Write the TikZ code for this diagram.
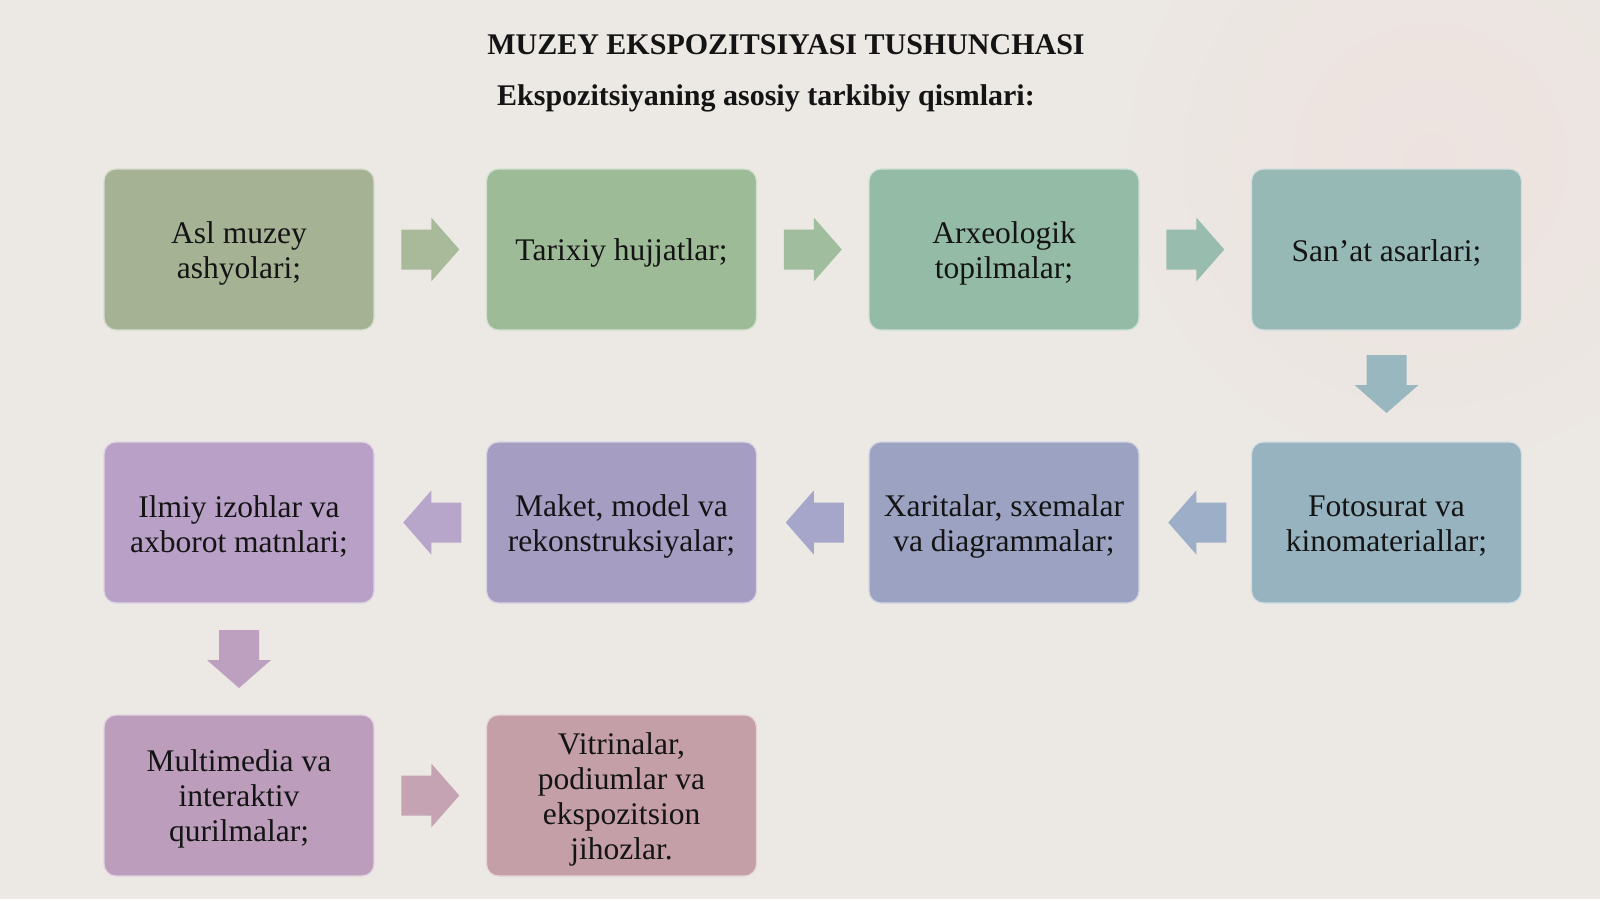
\documentclass[tikz,border=0pt]{standalone}
\usepackage{fontspec}
\setmainfont{Liberation Serif}
\usetikzlibrary{calc}
\definecolor{bg}{HTML}{ECE8E3}
\definecolor{bgtint}{HTML}{EDE2DF}
\definecolor{ink}{HTML}{141414}
\definecolor{cA}{HTML}{A5B394}
\definecolor{cB}{HTML}{9EBB98}
\definecolor{cC}{HTML}{93BBA5}
\definecolor{cD}{HTML}{97B9B6}
\definecolor{cE}{HTML}{97B3C0}
\definecolor{cF}{HTML}{9BA2C2}
\definecolor{cG}{HTML}{A69DC3}
\definecolor{cH}{HTML}{B9A0C6}
\definecolor{cI}{HTML}{BC9DBC}
\definecolor{cJ}{HTML}{C49FA8}
\definecolor{aA}{HTML}{A9BA9A}
\definecolor{aB}{HTML}{A0BD9E}
\definecolor{aC}{HTML}{98BCAD}
\definecolor{aD}{HTML}{98B7BE}
\definecolor{aE}{HTML}{9DAEC9}
\definecolor{aF}{HTML}{A5A6CA}
\definecolor{aG}{HTML}{B8A6CA}
\definecolor{aH}{HTML}{BDA0C0}
\definecolor{aI}{HTML}{C5A3B2}
\tikzset{
  box/.style={rounded corners=12pt, minimum width=270pt, minimum height=161pt,
    inner sep=0pt, draw=white!55!#1, line width=1.2pt, fill=#1},
  boxtext/.style={align=center, text=ink, inner sep=0pt,
    font=\fontsize{31.5}{35}\selectfont},
  ttl/.style={text=ink, font=\bfseries\fontsize{30}{34}\selectfont}
}
% block arrow pointing right, centred at origin (x right, y down)
\newcommand{\blockarrowpath}{(-29,-20) -- (1,-20) -- (1,-32) -- (29,0) -- (1,32) -- (1,20) -- (-29,20) -- cycle}
\newcommand{\boxlabel}[2]{\node[boxtext] (#1t) at ($(#1.center)+(0,3.5)$) {#2};}
\begin{document}
\begin{tikzpicture}[x=1pt,y=-1pt]
\fill[bg] (0,0) rectangle (1600,899);
\useasboundingbox (0,0) rectangle (1600,899);
% very faint background tint (top right)
\shade[inner color=bgtint, outer color=bg] (1430,160) circle [radius=330];

\node[ttl] (t1) at (786,45) {MUZEY EKSPOZITSIYASI TUSHUNCHASI};
\node[ttl] (t2) at (766,98) {Ekspozitsiyaning asosiy tarkibiy qismlari:};

\node[box=cA] (b1) at (239,249.5) {};
\node[box=cB] (b2) at (621.5,249.5) {};
\node[box=cC] (b3) at (1004,249.5) {};
\node[box=cD] (b4) at (1386.5,249.5) {};
\node[box=cE] (b5) at (1386.5,522.5) {};
\node[box=cF] (b6) at (1004,522.5) {};
\node[box=cG] (b7) at (621.5,522.5) {};
\node[box=cH] (b8) at (239,522.5) {};
\node[box=cI] (b9) at (239,795.5) {};
\node[box=cJ] (b10) at (621.5,795.5) {};

\boxlabel{b1}{Asl muzey\\ashyolari;}
\boxlabel{b2}{Tarixiy hujjatlar;}
\boxlabel{b3}{Arxeologik\\topilmalar;}
\boxlabel{b4}{San’at asarlari;}
\boxlabel{b5}{Fotosurat va\\kinomateriallar;}
\boxlabel{b6}{Xaritalar, sxemalar\\va diagrammalar;}
\boxlabel{b7}{Maket, model va\\rekonstruksiyalar;}
\boxlabel{b8}{Ilmiy izohlar va\\axborot matnlari;}
\boxlabel{b9}{Multimedia va\\interaktiv\\qurilmalar;}
\boxlabel{b10}{Vitrinalar,\\podiumlar va\\ekspozitsion\\jihozlar.}

\coordinate (m1) at ($(b1.east)!0.5!(b2.west)$);
\coordinate (m2) at ($(b2.east)!0.5!(b3.west)$);
\coordinate (m3) at ($(b3.east)!0.5!(b4.west)$);
\coordinate (m4) at ($(b4.south)!0.5!(b5.north)$);
\coordinate (m5) at ($(b5.west)!0.5!(b6.east)$);
\coordinate (m6) at ($(b6.west)!0.5!(b7.east)$);
\coordinate (m7) at ($(b7.west)!0.5!(b8.east)$);
\coordinate (m8) at ($(b8.south)!0.5!(b9.north)$);
\coordinate (m9) at ($(b9.east)!0.5!(b10.west)$);

\fill[aA, shift={(m1)}] \blockarrowpath;
\fill[aB, shift={(m2)}] \blockarrowpath;
\fill[aC, shift={(m3)}] \blockarrowpath;
\fill[aD, shift={($(m4)+(0,-2)$)}, rotate=-90] \blockarrowpath;
\fill[aE, shift={($(m5)+(2,0)$)}, rotate=180] \blockarrowpath;
\fill[aF, shift={($(m6)+(2,0)$)}, rotate=180] \blockarrowpath;
\fill[aG, shift={($(m7)+(2,0)$)}, rotate=180] \blockarrowpath;
\fill[aH, shift={(m8)}, rotate=-90] \blockarrowpath;
\fill[aI, shift={(m9)}] \blockarrowpath;
\end{tikzpicture}
\end{document}
